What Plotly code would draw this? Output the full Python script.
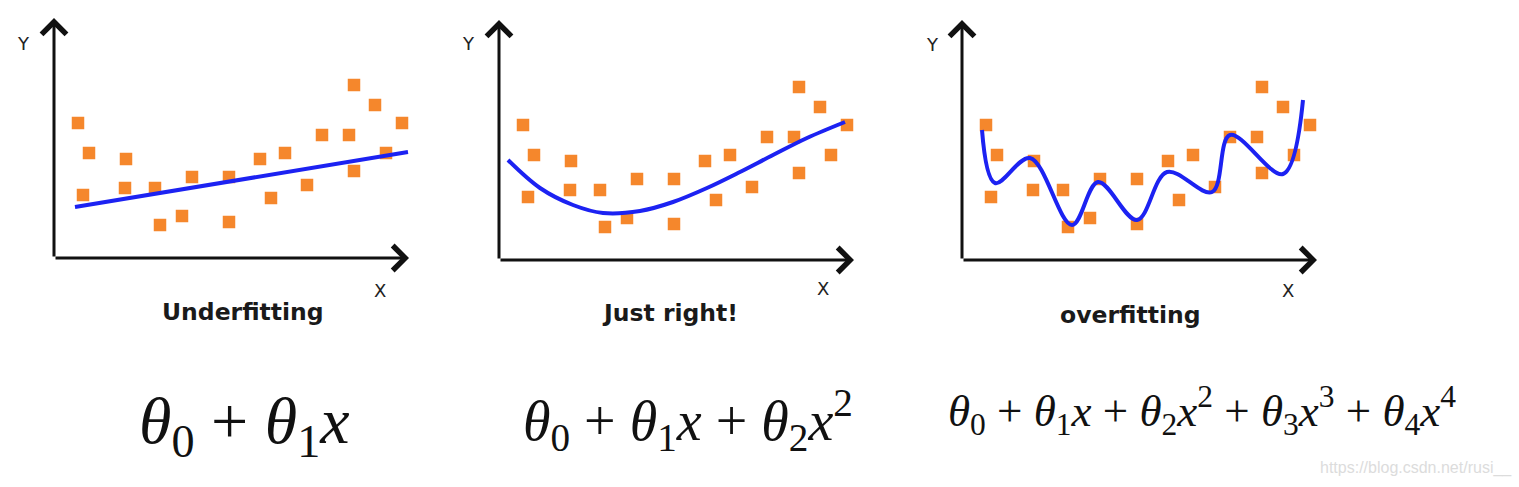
import plotly.graph_objects as go

# Shared scatter data (same points in all three panels)
pts_x = [2.4, 3.5, 2.9, 7.2, 7.1, 10.1, 10.6, 12.8, 13.8, 17.5, 17.5,
         20.6, 21.7, 23.1, 25.3, 26.8, 29.5, 30.0, 30.0, 32.1, 33.2, 34.8]
pts_y = [13.5, 10.5, 6.3, 9.9, 7.0, 7.0, 3.3, 4.2, 8.1, 8.1, 3.6,
         9.9, 6.0, 10.5, 7.3, 12.3, 12.3, 17.3, 8.7, 15.3, 10.5, 13.5]

# Fitted curves (control points)
under_x = [2.1, 35.4]
under_y = [5.1, 10.6]
right_x = [0.9, 4.1, 7.4, 10.4, 14.1, 17.4, 20.8, 24.1, 27.4, 30.8, 34.6]
right_y = [10.0, 7.2, 5.5, 4.7, 4.9, 5.8, 7.2, 8.8, 10.5, 12.2, 13.8]
over_x = [2.0, 3.3, 6.8, 11.0, 13.6, 17.5, 20.5, 25.0, 26.8, 32.1, 34.1]
over_y = [13.0, 7.7, 10.2, 3.5, 7.8, 4.0, 8.8, 6.8, 12.5, 8.6, 16.0]

titles = ["Underfitting", "Just right!", "overfitting"]
formulas = [
    "<i>θ</i><sub>0</sub> + <i>θ</i><sub>1</sub><i>x</i>",
    "<i>θ</i><sub>0</sub> + <i>θ</i><sub>1</sub><i>x</i> + <i>θ</i><sub>2</sub><i>x</i><sup>2</sup>",
    "<i>θ</i><sub>0</sub> + <i>θ</i><sub>1</sub><i>x</i> + <i>θ</i><sub>2</sub><i>x</i><sup>2</sup>"
    " + <i>θ</i><sub>3</sub><i>x</i><sup>3</sup> + <i>θ</i><sub>4</sub><i>x</i><sup>4</sup>",
]
watermark = "https://blog.csdn.net/rusi__"

W, H = 1519, 487
XMAX, YMAX = 35.5, 24.0
SCALE = 10  # pixels per data unit
ORANGE = "#f5872c"
BLUE = "#1c22f2"

# panel origins in pixels (x, y)
origins = [(54, 258), (499, 260), (962, 260)]
# label offsets in data units relative to each panel origin
ylab_pos = [(-3.1, 21.5), (-3.1, 21.7), (-3.0, 21.5)]
xlab_pos = [(32.6, -3.2), (32.4, -2.8), (32.6, -3.0)]
title_pos = [(18.9, -5.4), (17.1, -5.3), (16.8, -5.5)]


def to_paper(i, dx, dy):
    ox, oy = origins[i]
    return (ox + dx * SCALE) / W, 1 - (oy - dy * SCALE) / H


fig = go.Figure()
layout_axes = {}
annotations = []
curves = [(under_x, under_y, "linear"), (right_x, right_y, "spline"), (over_x, over_y, "spline")]

for i, (ox, oy) in enumerate(origins):
    n = "" if i == 0 else str(i + 1)
    xa, ya = "x" + n, "y" + n
    x0, y0 = to_paper(i, 0, 0)
    x1, y1 = to_paper(i, XMAX, YMAX)
    common = dict(showgrid=False, zeroline=False, showticklabels=False,
                  ticks="", showline=False, fixedrange=True)
    layout_axes["xaxis" + n] = dict(domain=[x0, x1], range=[0, XMAX], anchor=ya, **common)
    layout_axes["yaxis" + n] = dict(domain=[y0, y1], range=[0, YMAX], anchor=xa, **common)

    fig.add_trace(go.Scatter(x=pts_x, y=pts_y, mode="markers", xaxis=xa, yaxis=ya,
                             marker=dict(symbol="square", size=12.5, color=ORANGE,
                                         line=dict(width=0)),
                             showlegend=False, hoverinfo="skip"))
    cx, cy, shape = curves[i]
    fig.add_trace(go.Scatter(x=cx, y=cy, mode="lines", xaxis=xa, yaxis=ya,
                             line=dict(color=BLUE, width=4, shape=shape, smoothing=1.0),
                             showlegend=False, hoverinfo="skip", cliponaxis=False))

    # axis arrows
    for (hx, hy) in [(XMAX, 0), (0, YMAX)]:
        annotations.append(dict(x=hx, y=hy, ax=0, ay=0, xref=xa, yref=ya,
                                axref=xa, ayref=ya, text="", showarrow=True,
                                arrowhead=4, arrowsize=1.6, arrowwidth=3,
                                arrowcolor="#111111", standoff=0))
    # axis letters
    px, py = to_paper(i, *ylab_pos[i])
    annotations.append(dict(x=px, y=py, xref="paper", yref="paper", text="Y",
                            showarrow=False, xanchor="center", yanchor="middle",
                            font=dict(family="DejaVu Sans", size=18, color="#222")))
    px, py = to_paper(i, *xlab_pos[i])
    annotations.append(dict(x=px, y=py, xref="paper", yref="paper", text="X",
                            showarrow=False, xanchor="center", yanchor="middle",
                            font=dict(family="DejaVu Sans", size=18, color="#222")))
    # title
    px, py = to_paper(i, *title_pos[i])
    annotations.append(dict(x=px, y=py, xref="paper", yref="paper",
                            text="<b>" + titles[i] + "</b>", showarrow=False,
                            xanchor="center", yanchor="middle",
                            font=dict(family="DejaVu Sans", size=23.5, color="#1a1a1a")))

# formulas (pixel centre x, y, font size)
form_pos = [(244, 425, 66), (688, 420, 56), (1202, 410, 45)]
for f, (px, py, fs) in zip(formulas, form_pos):
    annotations.append(dict(x=px / W, y=1 - py / H, xref="paper", yref="paper", text=f,
                            showarrow=False, xanchor="center", yanchor="middle",
                            font=dict(family="Liberation Serif", size=fs, color="#111")))

annotations.append(dict(x=1416 / W, y=1 - 468 / H, xref="paper", yref="paper", text=watermark,
                        showarrow=False, xanchor="center", yanchor="middle",
                        font=dict(family="Liberation Sans", size=16, color="#dcdcdc")))

fig.update_layout(width=W, height=H, margin=dict(l=0, r=0, t=0, b=0),
                  paper_bgcolor="white", plot_bgcolor="white",
                  annotations=annotations, **layout_axes)

fig.write_html("out.html", config={"displayModeBar": False})
